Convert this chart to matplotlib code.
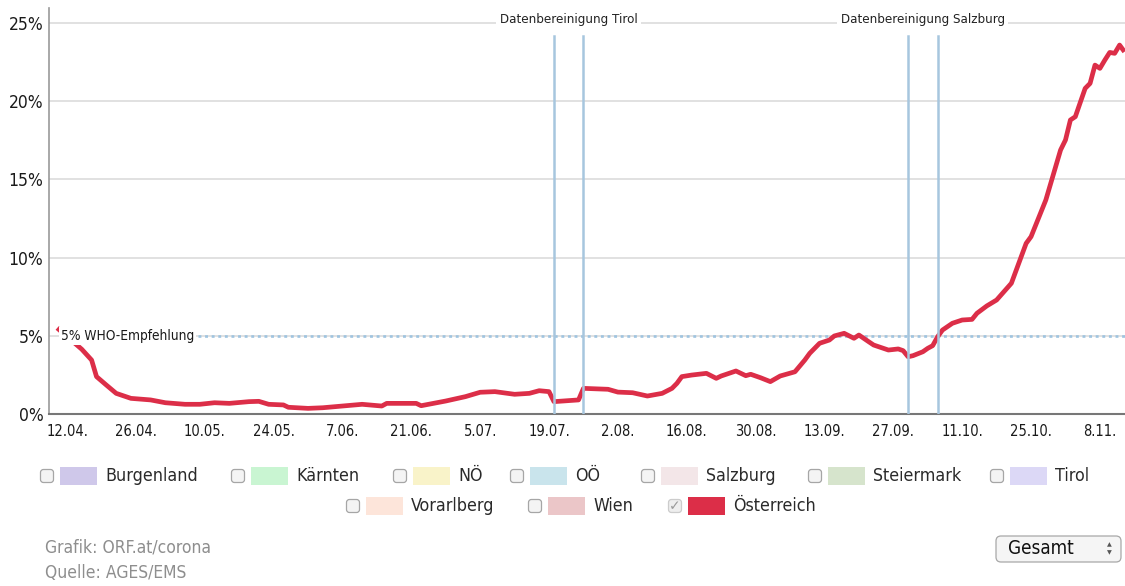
import matplotlib
matplotlib.use("Agg")
import matplotlib.pyplot as plt
import matplotlib.dates as mdates
from matplotlib.patches import FancyBboxPatch, Rectangle
import pandas as pd

# Positivrate Österreich (7-Tage)
dates = ["2020-04-10", "2020-04-15", "2020-04-17", "2020-04-18", "2020-04-20", "2020-04-22",
         "2020-04-25", "2020-04-29", "2020-05-02", "2020-05-06", "2020-05-09", "2020-05-12",
         "2020-05-15", "2020-05-19", "2020-05-21", "2020-05-23", "2020-05-26", "2020-05-27",
         "2020-05-31", "2020-06-03", "2020-06-11", "2020-06-15", "2020-06-16", "2020-06-22",
         "2020-06-23", "2020-06-28", "2020-07-02", "2020-07-05", "2020-07-08", "2020-07-12",
         "2020-07-15", "2020-07-17", "2020-07-19", "2020-07-20", "2020-07-25", "2020-07-26",
         "2020-07-31", "2020-08-02", "2020-08-05", "2020-08-08", "2020-08-11", "2020-08-13",
         "2020-08-14", "2020-08-15", "2020-08-17", "2020-08-20", "2020-08-22", "2020-08-23",
         "2020-08-26", "2020-08-28", "2020-08-29", "2020-08-31", "2020-09-02", "2020-09-04",
         "2020-09-07", "2020-09-09", "2020-09-10", "2020-09-12", "2020-09-14", "2020-09-15",
         "2020-09-17", "2020-09-19", "2020-09-20", "2020-09-22", "2020-09-23", "2020-09-26",
         "2020-09-28", "2020-09-29", "2020-09-30", "2020-10-01", "2020-10-03", "2020-10-04",
         "2020-10-05", "2020-10-06", "2020-10-07", "2020-10-09", "2020-10-11", "2020-10-13",
         "2020-10-14", "2020-10-16", "2020-10-18", "2020-10-21", "2020-10-22", "2020-10-24",
         "2020-10-25", "2020-10-28", "2020-10-31", "2020-11-01", "2020-11-02", "2020-11-03",
         "2020-11-05", "2020-11-06", "2020-11-07", "2020-11-08", "2020-11-09", "2020-11-10",
         "2020-11-11", "2020-11-12", "2020-11-13"]
values = [5.50, 4.14, 3.45, 2.39, 1.85, 1.32,
          1.00, 0.90, 0.72, 0.62, 0.62, 0.72,
          0.68, 0.79, 0.81, 0.62, 0.58, 0.43,
          0.36, 0.40, 0.62, 0.51, 0.68, 0.68,
          0.53, 0.83, 1.11, 1.39, 1.43, 1.26,
          1.32, 1.49, 1.43, 0.79, 0.90, 1.64,
          1.58, 1.40, 1.36, 1.15, 1.32, 1.64,
          1.96, 2.39, 2.49, 2.60, 2.28, 2.43,
          2.75, 2.45, 2.54, 2.32, 2.07, 2.43,
          2.70, 3.45, 3.88, 4.52, 4.73, 4.99,
          5.16, 4.84, 5.05, 4.62, 4.41, 4.09,
          4.16, 4.05, 3.66, 3.73, 3.98, 4.20,
          4.37, 4.94, 5.37, 5.80, 6.01, 6.05,
          6.44, 6.91, 7.29, 8.36, 9.21, 10.91,
          11.34, 13.68, 16.88, 17.52, 18.80, 19.01,
          20.82, 21.14, 22.31, 22.10, 22.63, 23.12,
          23.06, 23.59, 23.16]

who_level = 5
who_label = "5% WHO-Empfehlung"
cleanups = [("Datenbereinigung Tirol", "2020-07-20", "2020-07-26"),
            ("Datenbereinigung Salzburg", "2020-09-30", "2020-10-06")]

y_ticks = [0, 5, 10, 15, 20, 25]
y_labels = ["0%", "5%", "10%", "15%", "20%", "25%"]
x_ticks = pd.date_range("2020-04-12", periods=16, freq="14D")
x_labels = [f"{d.day}.{d.month:02d}." for d in x_ticks]

legend_row1 = ["Burgenland", "Kärnten", "NÖ", "OÖ", "Salzburg", "Steiermark", "Tirol"]
legend_row2 = ["Vorarlberg", "Wien", "Österreich"]
legend_colors = {"Burgenland": "#cfc8ea", "Kärnten": "#c9f5d2", "NÖ": "#f9f3c9",
                 "OÖ": "#c9e4ec", "Salzburg": "#f3e6e8", "Steiermark": "#d6e4cc",
                 "Tirol": "#dcd8f6", "Vorarlberg": "#fde5da", "Wien": "#ebc6c8",
                 "Österreich": "#dc2e48"}
checked = ["Österreich"]

RED = "#dc2e48"
FONT = dict(family=["DejaVu Sans"], stretch="condensed")

W, H = 1125, 586
fig = plt.figure(figsize=(W / 100, H / 100), dpi=100)

# main axes: y axis line at x=49px, 0% at y=414px
ax = fig.add_axes([49 / W, (H - 414) / H, 1 - 49 / W, 406 / H])
x = pd.to_datetime(dates)
start = pd.Timestamp("2020-04-12")
ax.set_xlim(start - pd.Timedelta(days=3.66), start + pd.Timedelta(days=215.1))
ax.set_ylim(0, 25.96)

for t in y_ticks[1:]:
    ax.axhline(t, color="#dcdcdc", lw=1.2, zorder=1)

ax.axhline(who_level, xmin=0.1385, color="#9fc4e0", lw=1.9,
           linestyle=(0, (1.1, 1.4)), zorder=1)

ax.plot(x, values, color=RED, lw=3.4, zorder=2, solid_capstyle="butt")

for label, d1, d2 in cleanups:
    t1, t2 = pd.Timestamp(d1), pd.Timestamp(d2)
    for t in (t1, t2):
        ax.axvline(t, ymax=378 / 406, color="#a7c6de", lw=1.8, zorder=3)
    ax.text(t1 + (t2 - t1) / 2, 25.25, label, ha="center", va="center",
            fontsize=9.5, color="#222222", zorder=4,
            bbox=dict(facecolor="white", edgecolor="none", pad=2.5), **FONT)

ax.set_yticks(y_ticks)
ax.set_yticklabels(y_labels)
ax.set_xticks(x_ticks)
ax.set_xticklabels(x_labels)
ax.tick_params(axis="y", length=0, pad=4, labelsize=12.5, labelcolor="#1a1a1a")
ax.tick_params(axis="x", length=0, pad=7, labelsize=10.5, labelcolor="#1a1a1a")
for lab in ax.get_xticklabels() + ax.get_yticklabels():
    lab.set_fontstretch("condensed")

for s in ("top", "right"):
    ax.spines[s].set_visible(False)
ax.spines["left"].set_color("#999999")
ax.spines["left"].set_linewidth(1.2)
ax.spines["bottom"].set_color("#777777")
ax.spines["bottom"].set_linewidth(1.5)

# overlay in pixel coordinates for labels, legend and footer
ov = fig.add_axes([0, 0, 1, 1], zorder=5)
ov.set_xlim(0, W)
ov.set_ylim(H, 0)
ov.axis("off")
ov.patch.set_visible(False)

ov.text(61, 336, who_label, ha="left", va="center", fontsize=9.8, color="#1a1a1a",
        bbox=dict(facecolor="white", edgecolor="none", pad=1.5), **FONT)

def legend_item(cx, cy, name):
    on = name in checked
    ov.add_patch(FancyBboxPatch((cx - 6.5, cy - 6.5), 13, 13,
                                boxstyle="round,pad=0,rounding_size=3",
                                facecolor="#f4f4f4" if not on else "#eeeeee",
                                edgecolor="#a6a6a6" if not on else "#cccccc", lw=0.9))
    if on:
        ov.text(cx, cy, "\u2713", ha="center", va="center", fontsize=10, color="#9a9a9a")
    ov.add_patch(Rectangle((cx + 13, cy - 9), 37, 18, facecolor=legend_colors[name],
                           edgecolor="none"))
    ov.text(cx + 58, cy, name, ha="left", va="center", fontsize=12.8, color="#2a2a2a", **FONT)

row1_x = [47, 238, 400, 517, 648, 815, 997]
row2_x = [353, 535, 675]
for cx, name in zip(row1_x, legend_row1):
    legend_item(cx, 476, name)
for cx, name in zip(row2_x, legend_row2):
    legend_item(cx, 506, name)

ov.text(45, 547, "Grafik: ORF.at/corona", ha="left", va="center", fontsize=12.5,
        color="#8e8e8e", **FONT)
ov.text(45, 573, "Quelle: AGES/EMS", ha="left", va="center", fontsize=12.5,
        color="#8e8e8e", **FONT)

# dropdown
ov.add_patch(FancyBboxPatch((996, 536), 125, 26, boxstyle="round,pad=0,rounding_size=5",
                            facecolor="#f5f5f5", edgecolor="#a8a8a8", lw=0.9))
ov.text(1008, 549, "Gesamt", ha="left", va="center", fontsize=13.5, color="#111111", **FONT)
ov.text(1109, 545, "\u25b2", ha="center", va="center", fontsize=4.5, color="#555555")
ov.text(1109, 553, "\u25bc", ha="center", va="center", fontsize=4.5, color="#555555")

fig.savefig("out.png", dpi=100)
